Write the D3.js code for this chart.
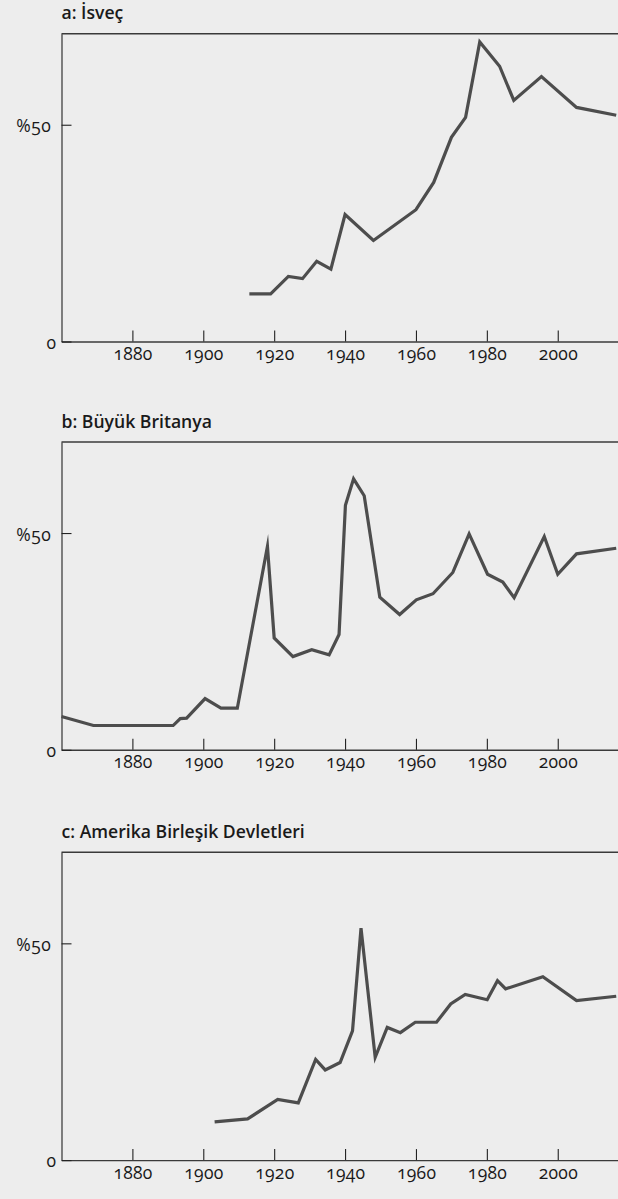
<!DOCTYPE html>
<html><head><meta charset="utf-8">
<script src="https://cdn.jsdelivr.net/npm/d3@7"></script>
<style>
html,body{margin:0;padding:0;background:#ededed;}
svg{display:block;}
text{font-family:"Open Sans",Lato,sans-serif;font-variant-numeric:oldstyle-nums;font-feature-settings:"onum" 1;fill:#1a1a1a;}
</style></head><body>
<svg id="chart" width="618" height="1199"></svg>
<script>
// ---- data ----
const panelTitles = ["a: İsveç", "b: Büyük Britanya", "c: Amerika Birleşik Devletleri"];

const swedenYears  = [1913, 1919, 1924, 1928, 1932, 1936, 1940, 1948, 1960, 1965, 1970, 1974, 1978, 1983.6, 1987.6, 1995.4, 2005.3, 2016.5];
const swedenValues = [11.0, 11.0, 15.0, 14.5, 18.5, 16.7, 29.3, 23.3, 30.4, 36.7, 47.1, 51.7, 69.1, 63.5, 55.6, 61.1, 54.0, 52.2];

const britainYears  = [1860, 1869, 1891.5, 1893.5, 1895.3, 1900.5, 1905, 1909.6, 1918.1, 1920, 1925.3, 1930.6, 1935.5, 1938.3, 1940.1, 1942.4, 1945.4, 1949.8, 1955.4, 1960.1, 1964.8, 1970.4, 1975, 1980.2, 1984.5, 1987.7, 1996.2, 2000, 2005.3, 2016.5];
const britainValues = [7.7, 5.6, 5.6, 7.2, 7.3, 11.8, 9.6, 9.6, 46.9, 25.8, 21.5, 23.1, 21.9, 26.6, 56.4, 62.5, 58.6, 35.2, 31.2, 34.6, 36.0, 40.9, 49.8, 40.5, 38.7, 35.1, 49.2, 40.5, 45.2, 46.5];

const usaYears  = [1903.2, 1912.5, 1921, 1926.8, 1931.7, 1934.4, 1938.6, 1942.1, 1944.5, 1948.5, 1951.9, 1955.6, 1959.8, 1965.8, 1969.8, 1973.9, 1980.1, 1983, 1985.3, 1995.8, 2005.3, 2016.5];
const usaValues = [8.8, 9.5, 14.0, 13.2, 23.2, 20.8, 22.5, 29.8, 53.5, 23.7, 30.6, 29.4, 31.8, 31.8, 36.0, 38.2, 37.0, 41.4, 39.5, 42.3, 36.8, 37.8];

const xTickValues = [1880, 1900, 1920, 1940, 1960, 1980, 2000];
const yTickValues = [0, 50];
const yTickLabels = ["0", "%50"];

const series = [
  {years: swedenYears, values: swedenValues},
  {years: britainYears, values: britainValues},
  {years: usaYears, values: usaValues}
];

// ---- layout ----
const W = 618, left = 61.5, right = 618;
const panelTops = [33.7, 442, 852.3];
const plotH = 307.8;

const svg = d3.select("#chart");
svg.append("rect").attr("width", W).attr("height", 1199).attr("fill", "#ededed");

const x = d3.scaleLinear().domain([1860, 2017]).range([left, right]);

series.forEach((s, i) => {
  const top = panelTops[i];
  const y = d3.scaleLinear().domain([0, 71]).range([top + plotH, top]);
  const g = svg.append("g");

  // title
  g.append("text").attr("x", 61.5).attr("y", top - 14.5)
    .attr("font-size", 17.6).attr("font-weight", 600)
    .style("font-variant-numeric", "normal")
    .text(panelTitles[i]);

  // top frame line
  g.append("line").attr("x1", left).attr("x2", right).attr("y1", top).attr("y2", top)
    .attr("stroke", "#3a3a3a").attr("stroke-width", 1.4);

  // x axis
  const xa = g.append("g").attr("transform", `translate(0,${top + plotH})`)
    .call(d3.axisBottom(x).tickValues(xTickValues).tickFormat(d3.format("d"))
      .tickSizeInner(-11).tickSizeOuter(0).tickPadding(0));
  xa.select(".domain").attr("stroke", "#3a3a3a").attr("stroke-width", 1.4);
  xa.selectAll(".tick line").attr("stroke", "#222").attr("stroke-width", 1.1);
  xa.selectAll(".tick text").attr("y", 18.5).attr("dy", 0)
    .attr("font-size", 17.5).attr("font-weight", 500).attr("font-family", null).attr("fill", "#111")
    .attr("textLength", 39).attr("lengthAdjust", "spacing");

  // y axis
  const ya = g.append("g").attr("transform", `translate(${left},0)`)
    .call(d3.axisLeft(y).tickValues(yTickValues).tickFormat((d, k) => yTickLabels[k])
      .tickSizeInner(-10).tickSizeOuter(0).tickPadding(0));
  ya.select(".domain").attr("stroke", "#222").attr("stroke-width", 1.1);
  ya.selectAll(".tick line").attr("stroke", "#222").attr("stroke-width", 1.1);
  ya.selectAll(".tick text").attr("font-size", 17.5).attr("font-weight", 500).attr("font-family", null)
    .attr("fill", "#111").attr("dy", 0)
    .attr("x", d => d === 0 ? -5.5 : -10.8)
    .attr("y", d => d === 0 ? 6.8 : 7)
    .attr("textLength", d => d === 0 ? 10 : 34.5).attr("lengthAdjust", "spacing");

  // line
  const pts = s.years.map((yr, k) => [yr, s.values[k]]);
  g.append("path").datum(pts)
    .attr("fill", "none").attr("stroke", "#4d4d4d").attr("stroke-width", 3.2)
    .attr("stroke-linejoin", "miter").attr("stroke-miterlimit", 10)
    .attr("d", d3.line().x(d => x(d[0])).y(d => y(d[1])));
});
</script>
</body></html>
